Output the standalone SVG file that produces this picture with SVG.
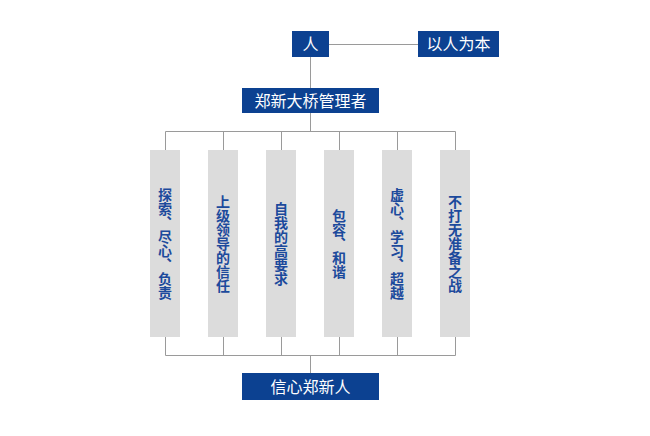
<svg xmlns="http://www.w3.org/2000/svg" width="650" height="436" viewBox="0 0 650 436">
<style>
.box{fill:#0c4191;}
.btxt{fill:#ffffff;font-family:"Noto Sans CJK SC","Noto Sans",sans-serif;font-size:16px;text-anchor:middle;}
.col{fill:#dcdcdc;}
.ctxt{fill:#1c4a9c;font-family:"Noto Sans CJK SC","Noto Sans",sans-serif;font-size:14px;font-weight:bold;writing-mode:vertical-rl;text-anchor:middle;}
.ln{stroke:#9a9a9a;stroke-width:1;fill:none;}
</style>
<rect width="650" height="436" fill="#ffffff"/>
<g id="connectors">
<path class="ln" d="M329 44.5H418"/>
<path class="ln" d="M310.5 57V88"/>
<path class="ln" d="M310.5 113V131.5"/>
<path class="ln" d="M165.5 131.5H455.5"/>
<path class="ln" d="M165.5 131.5V150M223.5 131.5V150M281.5 131.5V150M339.5 131.5V150M397.5 131.5V150M455.5 131.5V150"/>
<path class="ln" d="M165.5 337V355.5M223.5 337V355.5M281.5 337V355.5M339.5 337V355.5M397.5 337V355.5M455.5 337V355.5"/>
<path class="ln" d="M165.5 355.5H455.5"/>
<path class="ln" d="M310.5 355.5V373"/>
</g>
<g id="ren">
<rect class="box" x="292" y="31" width="37" height="26"/>
<text class="btxt" x="310.5" y="50">人</text>
</g>
<g id="yirenweiben">
<rect class="box" x="418" y="31" width="81" height="26"/>
<text class="btxt" x="458.5" y="50">以人为本</text>
</g>
<g id="managers">
<rect class="box" x="242" y="88" width="137" height="25"/>
<text class="btxt" x="310.5" y="106.5">郑新大桥管理者</text>
</g>
<g id="c1">
<rect class="col" x="150" y="150" width="30" height="187"/>
<text class="ctxt" x="165" y="243.5">探索、尽心、负责</text>
</g>
<g id="c2">
<rect class="col" x="208" y="150" width="30" height="187"/>
<text class="ctxt" x="223" y="243.5">上级领导的信任</text>
</g>
<g id="c3">
<rect class="col" x="266" y="150" width="30" height="187"/>
<text class="ctxt" x="281" y="243.5">自我的高要求</text>
</g>
<g id="c4">
<rect class="col" x="324" y="150" width="30" height="187"/>
<text class="ctxt" x="339" y="243.5">包容、和谐</text>
</g>
<g id="c5">
<rect class="col" x="382" y="150" width="30" height="187"/>
<text class="ctxt" x="397" y="243.5">虚心、学习、超越</text>
</g>
<g id="c6">
<rect class="col" x="440" y="150" width="30" height="187"/>
<text class="ctxt" x="455" y="243.5">不打无准备之战</text>
</g>
<g id="xinxin">
<rect class="box" x="242" y="373" width="137" height="27"/>
<text class="btxt" x="310.5" y="392.5">信心郑新人</text>
</g>
</svg>
